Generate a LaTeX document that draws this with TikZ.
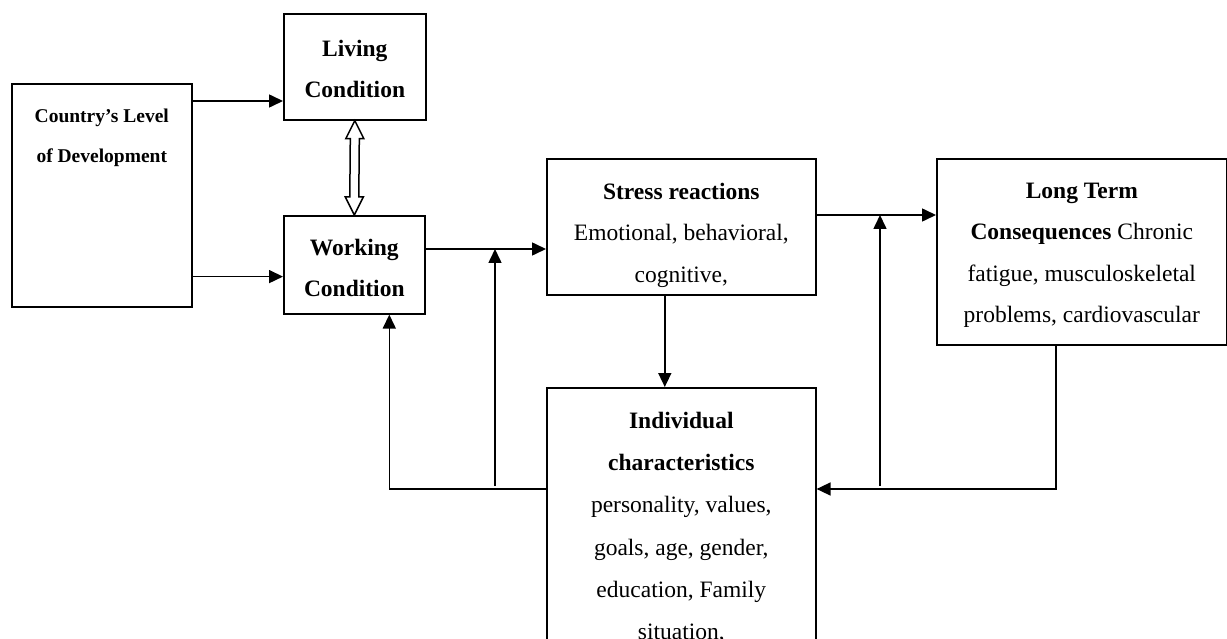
\documentclass[tikz,border=0pt]{standalone}
\usepackage{fontspec}
\setmainfont{Liberation Serif}
\usetikzlibrary{arrows.meta,calc}
\newcommand{\boxtxt}[6]{\parbox[t][#2][t]{#1}{\fontsize{#5}{#6}\selectfont\centering\vspace*{#3}#4\par}}
\tikzset{
  box/.style={draw, line width=1.6pt, inner sep=0pt, anchor=north west},
  arr/.style={line width=1.6pt, -{Triangle[length=14pt,width=13pt]}},
  ln/.style={line width=1.6pt}
}
\begin{document}
\begin{tikzpicture}[x=1pt,y=-1pt]
\fill[white] (0,0) rectangle (1227,639);
\useasboundingbox (0,0) rectangle (1227,639);

\node[box] (country) at (11,83) {\boxtxt{180pt}{223pt}{25pt}{\rule{0pt}{14pt}\bfseries Country’s Level\\of Development}{19.5pt}{40pt}};
\node[box] (living) at (283,13) {\boxtxt{142pt}{106pt}{26pt}{\rule{0pt}{16pt}\bfseries Living\\Condition}{23.5pt}{41.5pt}};
\node[box] (working) at (283,215) {\boxtxt{141pt}{98pt}{23pt}{\rule{0pt}{16pt}\bfseries Working\\Condition}{23.5pt}{41.5pt}};
\node[box] (stress) at (546,158) {\boxtxt{269pt}{136pt}{24pt}{\rule{0pt}{16pt}\textbf{Stress reactions}\\Emotional, behavioral,\\cognitive,}{23.5pt}{41.5pt}};
\node[box] (long) at (936,158) {\boxtxt{290pt}{186pt}{23.5pt}{\rule{0pt}{16pt}\textbf{Long Term}\\\textbf{Consequences} Chronic\\fatigue, musculoskeletal\\problems, cardiovascular}{23.5pt}{41.5pt}};
\node[box] (indiv) at (546,387) {\boxtxt{269pt}{275pt}{24pt}{\rule{0pt}{16pt}\textbf{Individual}\\\textbf{characteristics}\\personality, values,\\goals, age, gender,\\education, Family\\situation,}{23.5pt}{42.3pt}};

% country to living / working
\draw[arr] ([yshift=-18pt]country.north east) coordinate (c1) -- (c1 -| living.west);
\draw[arr] ([yshift=31pt]country.south east) coordinate (c2) -- (c2 -| working.west);

% hollow double arrow
\coordinate (T) at (living.south);
\coordinate (B) at (working.north);
\draw[line width=1.5pt, line join=miter, fill=white]
  (T) -- ($(T)+(9,18)$) -- ($(T)+(4.5,18)$) -- ($(B)+(4.5,-18)$) -- ($(B)+(9,-18)$)
  -- (B) -- ($(B)+(-9,-18)$) -- ($(B)+(-4.5,-18)$) -- ($(T)+(-4.5,18)$) -- ($(T)+(-9,18)$) -- cycle;

% working to stress
\draw[arr] ([yshift=-34pt]working.north east) coordinate (c3) -- (c3 -| stress.west);
\coordinate (m1) at (495,486);
\draw[arr] (m1) -- (m1 |- c3);

% feedback from individual to working
\coordinate (c5) at ([yshift=-102pt]indiv.north west);
\draw[arr] (c5) -| ([xshift=35pt]working.south);

% stress to individual
\draw[arr] ([xshift=-16.5pt]stress.south) coordinate (c6) -- (c6 |- indiv.north);

% stress to long term
\draw[arr] ([yshift=-57pt]stress.north east) coordinate (c7) -- (c7 -| long.west);
\coordinate (m2) at (880,486);
\draw[arr] (m2) -- (m2 |- c7);

% long term to individual
\draw[arr] ([xshift=-26pt]long.south) |- (c5 -| indiv.east);
\end{tikzpicture}
\end{document}
